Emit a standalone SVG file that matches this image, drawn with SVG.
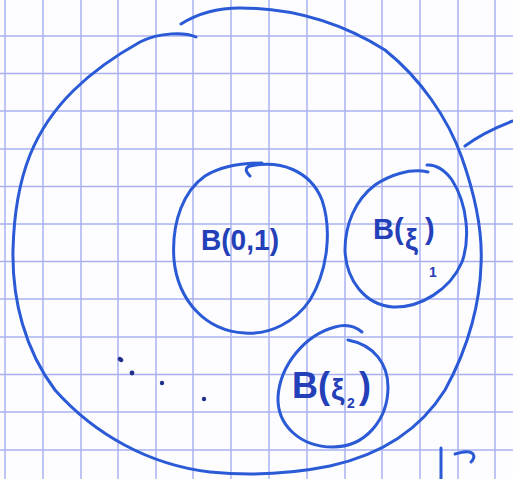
<svg xmlns="http://www.w3.org/2000/svg" width="513" height="479" viewBox="0 0 513 479">
<style>
.grid line{stroke:#a9b1f0;stroke-width:1.5}
.pen{fill:none;stroke:#2b5ad6;stroke-width:3;stroke-linecap:round;stroke-linejoin:round}
.lbl{font-family:"Liberation Sans",Arial,sans-serif;fill:#2440b8;font-weight:bold}
.dot{fill:#1f2f8a}
</style>
<rect width="513" height="479" fill="#fdfdff"/>
<g class="grid">
<line x1="5" y1="0" x2="5" y2="479"/><line x1="43" y1="0" x2="43" y2="479"/><line x1="81" y1="0" x2="81" y2="479"/><line x1="118" y1="0" x2="118" y2="479"/><line x1="156" y1="0" x2="156" y2="479"/><line x1="193" y1="0" x2="193" y2="479"/><line x1="231" y1="0" x2="231" y2="479"/><line x1="269" y1="0" x2="269" y2="479"/><line x1="307" y1="0" x2="307" y2="479"/><line x1="345" y1="0" x2="345" y2="479"/><line x1="382" y1="0" x2="382" y2="479"/><line x1="420" y1="0" x2="420" y2="479"/><line x1="458" y1="0" x2="458" y2="479"/><line x1="495" y1="0" x2="495" y2="479"/>
<line x1="0" y1="36" x2="513" y2="36"/><line x1="0" y1="73.5" x2="513" y2="73.5"/><line x1="0" y1="111" x2="513" y2="111"/><line x1="0" y1="149" x2="513" y2="149"/><line x1="0" y1="186.5" x2="513" y2="186.5"/><line x1="0" y1="224" x2="513" y2="224"/><line x1="0" y1="261.5" x2="513" y2="261.5"/><line x1="0" y1="299" x2="513" y2="299"/><line x1="0" y1="337" x2="513" y2="337"/><line x1="0" y1="374.5" x2="513" y2="374.5"/><line x1="0" y1="412" x2="513" y2="412"/><line x1="0" y1="450" x2="513" y2="450"/>
</g>
<g id="outer">
<path class="pen" d="M181,24 C200,12 220,8 240,8 C290,8 340,22 385,50 C420,78 448,118 462,158 C475,195 483,230 481,265 C480,300 470,345 445,390 C420,430 380,455 330,466 C290,474 250,476 210,472 C150,465 95,435 55,390 C25,350 12,300 13,250 C14,210 20,180 30,155 C50,105 90,70 140,42 C160,32 185,32 196,37"/>
<path class="pen" d="M465,146 C480,135 497,127 513,121"/>
</g>
<g id="ball-0-1">
<path class="pen" d="M250,176 C246,172 244,168 250,166 C280,160 310,170 322,200 C332,230 328,270 310,300 C295,322 270,335 245,333 C205,331 178,300 174,260 C171,220 185,190 205,176 C220,167 240,163 262,163"/>
<text class="lbl" x="201" y="250" font-size="30" textLength="78" lengthAdjust="spacingAndGlyphs">B(0,1)</text>
</g>
<g id="ball-xi1">
<path class="pen" d="M428,172 C410,168 390,175 375,185 C355,200 345,225 345,250 C346,280 365,305 393,307 C420,308 450,290 462,262 C470,240 468,205 452,180 C445,170 435,164 427,165"/>
<text class="lbl" font-size="29"><tspan x="373" y="239">B</tspan><tspan x="394" y="239">(</tspan><tspan x="405" y="250">ξ</tspan><tspan x="425" y="239">)</tspan></text>
<text class="lbl" x="429" y="277" font-size="14">1</text>
</g>
<g id="ball-xi2">
<path class="pen" d="M362,332 C355,326 345,324 335,327 C305,335 280,365 278,397 C277,425 300,447 333,447 C365,447 388,420 388,387 C388,365 375,345 348,340"/>
<text class="lbl" font-size="36"><tspan x="292" y="398">B</tspan><tspan x="318" y="398">(</tspan><tspan x="331" y="400" font-size="30">ξ</tspan><tspan x="359" y="398">)</tspan></text>
<text class="lbl" x="347" y="408" font-size="14">2</text>
</g>
<g id="dots">
<ellipse class="dot" cx="120.5" cy="359.5" rx="3" ry="2.2" transform="rotate(35 120.5 359.5)"/>
<circle class="dot" cx="132" cy="373" r="2.4"/>
<circle class="dot" cx="162" cy="383" r="2.2"/>
<circle class="dot" cx="204" cy="399" r="2.2"/>
</g>
<g id="mapsto">
<path class="pen" d="M441,448 L441,479" stroke-width="3.5"/>
<path class="pen" d="M455,454 C462,452 470,450 473,454 C475,457 473,460 471,462" stroke-width="3.5"/>
</g>
</svg>
